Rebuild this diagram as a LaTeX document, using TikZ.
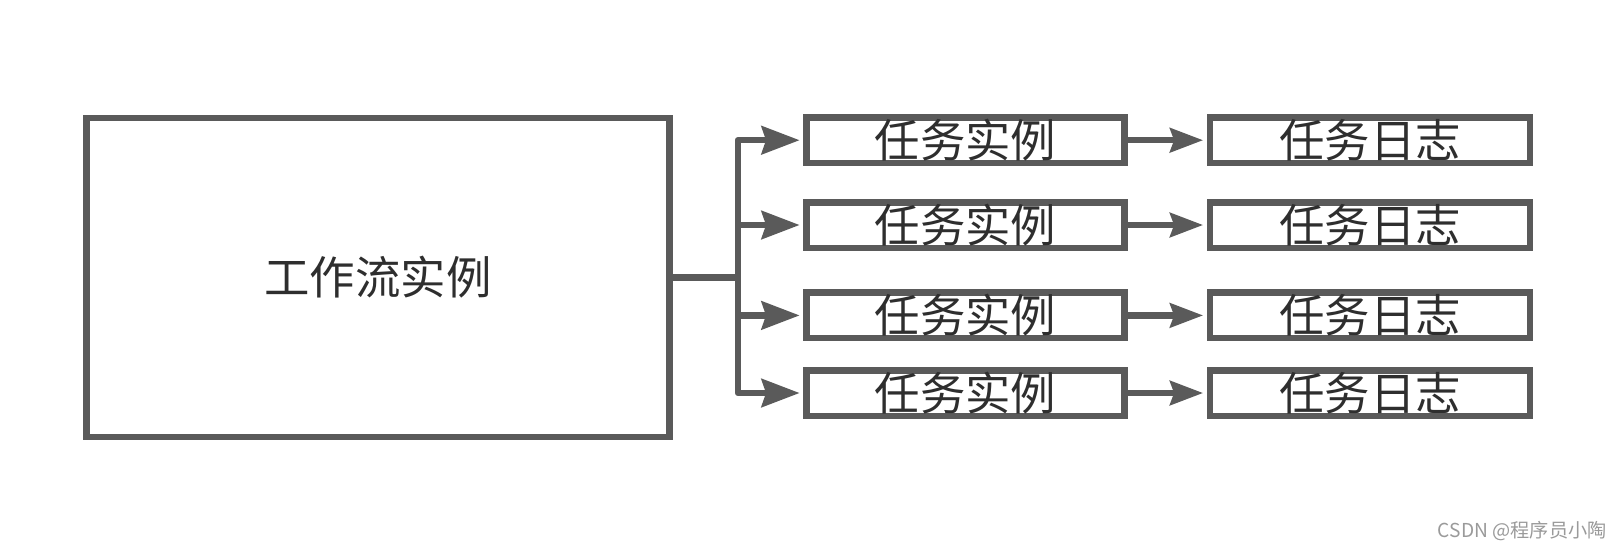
\documentclass[tikz,border=0pt]{standalone}
\usepackage{fontspec}
\setmainfont{Noto Sans CJK SC}
\usetikzlibrary{arrows.meta}
\definecolor{lineC}{HTML}{5A5A5A}
\definecolor{textC}{HTML}{2E2E2E}
\definecolor{markC}{HTML}{9A9A9A}
\tikzset{
  box/.style={draw=lineC, line width=3.25pt, inner sep=0pt, text=textC, font=\fontsize{22.7pt}{24pt}\selectfont},
  bigbox/.style={box, minimum width=291.5pt, minimum height=159.6pt},
  taskbox/.style={box, minimum width=159pt, minimum height=22.75pt},
  logbox/.style={box, minimum width=160pt, minimum height=22.75pt},
  conn/.style={draw=lineC, line width=3.25pt, line join=round},
  arrA/.style={conn, -{Stealth[length=19pt, width=14pt, inset=2.2pt]}, shorten >=1.8pt},
  arrB/.style={conn, -{Stealth[length=16.5pt, width=12pt, inset=2pt]}, shorten >=1.8pt},
  wmark/.style={text=markC, font=\fontsize{9.6pt}{10pt}\selectfont, inner sep=0pt}
}
\begin{document}
\begin{tikzpicture}[x=0.5pt, y=-0.5pt]
\useasboundingbox (0,0) rectangle (1622,548);
\node[bigbox] (wf) at (378,277.35) {工作流实例};
\node[taskbox] (t1) at (965.5,140.2) {任务实例};
\node[taskbox] (t2) at (965.5,225) {任务实例};
\node[taskbox] (t3) at (965.5,315.4) {任务实例};
\node[taskbox] (t4) at (965.5,393) {任务实例};
\node[logbox] (l1) at (1370,140.2) {任务日志};
\node[logbox] (l2) at (1370,225) {任务日志};
\node[logbox] (l3) at (1370,315.4) {任务日志};
\node[logbox] (l4) at (1370,393) {任务日志};
\coordinate (br) at (738,277.35);
\draw[conn] (wf.east) -- (br);
\foreach \i in {1,2,3,4} {
  \draw[arrA] (br) |- (t\i.west);
  \draw[arrB] (t\i.east) -- (l\i.west);
}
\node[wmark, anchor=east] (wm) at (1607,531) {CSDN @程序员小陶};
\end{tikzpicture}
\end{document}
